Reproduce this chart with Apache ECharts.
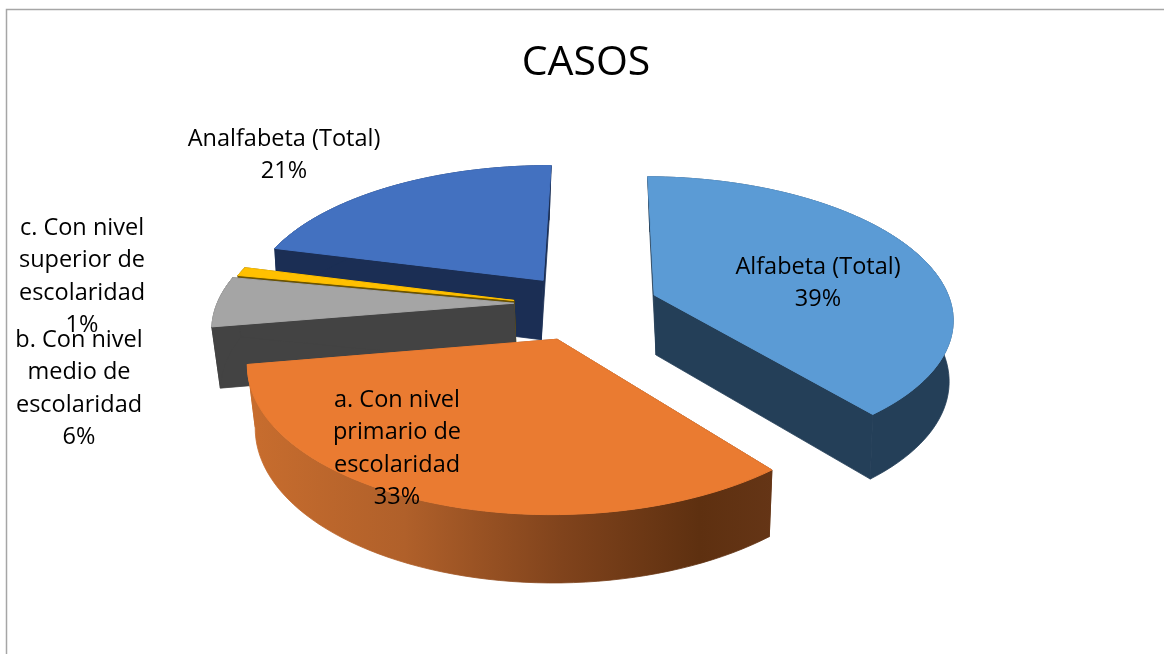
<!DOCTYPE html>
<html><head><meta charset="utf-8">
<style>html,body{margin:0;padding:0;background:#fff}#c{width:1164px;height:654px}</style>
<script src="https://cdn.jsdelivr.net/npm/echarts@6/dist/echarts.min.js"></script>
</head><body><div id="c"></div>
<script>
const categories = ['Alfabeta (Total)','a. Con nivel primario de escolaridad','b. Con nivel medio de escolaridad','c. Con nivel superior de escolaridad','Analfabeta (Total)'];
const labelLines = [['Alfabeta (Total)'],['a. Con nivel','primario de','escolaridad'],['b. Con nivel','medio de','escolaridad'],['c. Con nivel','superior de','escolaridad'],['Analfabeta (Total)']];
const percents = [39,33.2,5.7,1,21.1];
const topColors = ['#5B9BD5','#EA7B31','#A5A5A5','#FFC000','#4371C0'];
const sideColors = ['#243F58','#C86D2E','#434343','#6B5300','#1B2E54'];
const explodeX = [0.225,-0.1,-0.25,-0.25,-0.155];
const explodeY = [0,0.31,0.06,0.04,-0.11];
const radii = [1,0.99,1,0.985,1];
const vanishX = [750,640,640,640,450];
const drawOrder = [4,3,2,0,1];
const labelX = [818,397,79,82,284];
const labelY = [251,384,324,212,123];

const V = {cx:588, cy:295, a:294, b:136, k:0.15, depth:60, shrink:0.98, startDeg:0.5};
const total = percents.reduce((s,v)=>s+v,0);
const starts = []; { let acc = V.startDeg; percents.forEach(p=>{starts.push(acc); acc += p/total*360;}); }

function proj(i, wx, wy, low){
  const w = 1 - V.k*wy;
  let x = V.cx + V.a*wx/w, y = V.cy + V.b*wy/w;
  if(low){ x = vanishX[i] + (x-vanishX[i])*V.shrink; y += V.depth/Math.pow(w,0.6); }
  return [x, y];
}
function rim(i, t0, t1, low){
  const pts=[]; const n=Math.max(4,Math.ceil((t1-t0)/2));
  for(let j=0;j<=n;j++){
    const t=(t0+(t1-t0)*j/n)*Math.PI/180;
    pts.push(proj(i, explodeX[i]+radii[i]*Math.sin(t), explodeY[i]-radii[i]*Math.cos(t), low));
  }
  return pts;
}
function renderSlice(params, api){
  const i = api.value(0), val = api.value(1);
  const t0 = starts[i], t1 = t0 + val/total*360;
  const apexT = proj(i,explodeX[i],explodeY[i],false), apexB = proj(i,explodeX[i],explodeY[i],true);
  const top = rim(i,t0,t1,false), bot = rim(i,t0,t1,true);
  let sideFill = sideColors[i];
  if(i===1){
    sideFill = {type:'linear',global:true,x:247,y:0,x2:773,y2:0,colorStops:[
      {offset:0,color:'#C86D2E'},{offset:0.3,color:'#B0602A'},{offset:0.6,color:'#80431C'},{offset:0.86,color:'#5E3010'},{offset:1,color:'#653516'}]};
  }
  const wall=(points)=>({type:'polygon',shape:{points},style:{fill:sideFill,stroke:sideFill,lineWidth:0.8}});
  return {type:'group',children:[
    wall([apexT,top[0],bot[0],apexB]),
    wall([apexT,top[top.length-1],bot[bot.length-1],apexB]),
    wall(top.concat(bot.slice().reverse())),
    {type:'polygon',shape:{points:[apexT].concat(top)},style:{fill:topColors[i],stroke:topColors[i],lineWidth:1}}
  ]};
}
function renderLabel(params, api){
  const i = api.value(0);
  const text = labelLines[i].concat([Math.round(api.value(1))+'%']).join('\n');
  return {type:'text',x:labelX[i],y:labelY[i],style:{text,fill:'#000',font:'23.5px "Open Sans"',lineHeight:32.5,align:'center',verticalAlign:'top'},z2:10};
}
const chart = echarts.init(document.getElementById('c'),null,{renderer:'canvas'});
chart.setOption({
  animation:false,
  backgroundColor:'#fff',
  title:{text:'CASOS',left:581,top:38,textAlign:'center',textStyle:{fontFamily:'Open Sans',fontSize:41,fontWeight:'normal',color:'#000'}},
  graphic:[{type:'polyline',shape:{points:[[6.5,654],[6.5,9.5],[1164,9.5]]},style:{stroke:'#A6A6A6',lineWidth:1.5,fill:null}}],
  series:[
    {type:'custom',coordinateSystem:'none',renderItem:renderSlice,silent:true,z:2,
     data:drawOrder.map(i=>({name:categories[i],value:[i,percents[i]]}))},
    {type:'custom',coordinateSystem:'none',renderItem:renderLabel,silent:true,z:3,
     data:percents.map((p,i)=>({name:categories[i],value:[i,p]}))}
  ]
});
</script></body></html>
